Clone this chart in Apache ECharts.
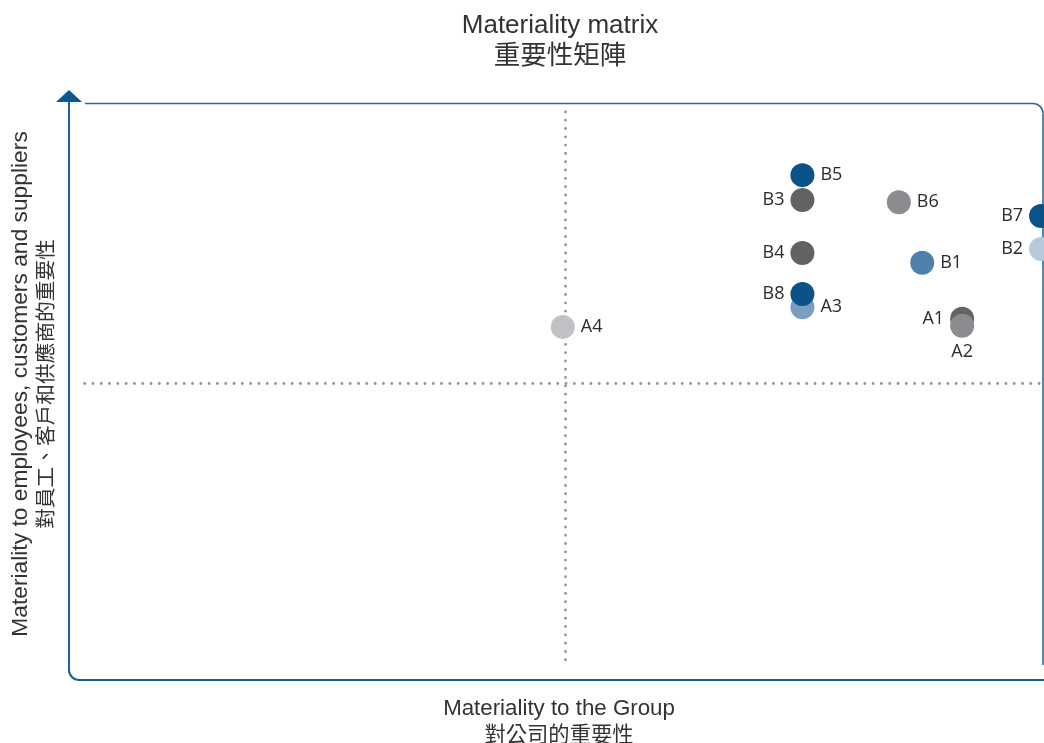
<!DOCTYPE html>
<html>
<head>
<meta charset="utf-8">
<title>Materiality matrix</title>
<script src="https://cdn.jsdelivr.net/npm/echarts@6/dist/echarts.min.js"></script>
<style>
  html, body { margin: 0; padding: 0; background: #fff; }
  #main { width: 1044px; height: 743px; }
</style>
</head>
<body>
<div id="main"></div>
<script type="text/javascript">
// topics (drawing order: later ones sit on top)
var names  = ['A4', 'B5', 'B3', 'B6', 'B7', 'B2', 'B4', 'B1', 'A3', 'B8', 'A1', 'A2'];
// materiality to the Group
var groupScore = [5.07, 7.53, 7.53, 8.52, 9.98, 9.98, 7.53, 8.76, 7.53, 7.53, 9.17, 9.17];
// materiality to employees, customers and suppliers
var stakeScore = [6.12, 8.75, 8.32, 8.28, 8.04, 7.47, 7.40, 7.23, 6.46, 6.69, 6.26, 6.14];
// middle split lines
var splitX = 5.1;
var splitY = 5.15;

// colour and label side for each topic
var colors = {
  A1: '#636466', A2: '#8b8c8f', A3: '#7b9dc2', A4: '#c0c1c4',
  B1: '#4e80ad', B2: '#b8c9dc', B3: '#616264', B4: '#616264',
  B5: '#0b5289', B6: '#8b8c8f', B7: '#0b5289', B8: '#0b5289'
};
var labelSide = {
  A1: 'left', A2: 'bottom', A3: 'right', A4: 'right',
  B1: 'right', B2: 'left', B3: 'left', B4: 'left',
  B5: 'right', B6: 'right', B7: 'left', B8: 'left'
};

var points = names.map(function (n, i) {
  return {
    name: n,
    value: [groupScore[i], stakeScore[i]],
    itemStyle: { color: colors[n], opacity: 1 },
    label: { position: labelSide[n], distance: labelSide[n] === 'bottom' ? 5 : 6 }
  };
});

var frameColor = '#1f5f96';
var txt = '#333';
var latin = 'Liberation Sans';
var cjk = 'Noto Sans CJK TC';

function twoLines(en, zh, enSize, zhSize, enH, zhH) {
  return {
    text: '{en|' + en + '}\n{zh|' + zh + '}',
    rich: {
      en: { fontFamily: latin, fontSize: enSize, lineHeight: enH, color: txt, fill: txt, align: 'center' },
      zh: { fontFamily: cjk, fontSize: zhSize, lineHeight: zhH, color: txt, fill: txt, align: 'center' }
    }
  };
}

var t1 = twoLines('Materiality matrix', '重要性矩陣', 26, 26.5, 28, 28);
var t2 = twoLines('Materiality to the Group', '對公司的重要性', 22.3, 21.3, 25, 25);
var t3 = twoLines('Materiality to employees, customers and suppliers', '對員工、客戶和供應商的重要性', 22.8, 20.7, 25, 25);

var myChart = echarts.init(document.getElementById('main'));
myChart.setOption({
  backgroundColor: '#fff',
  animation: false,
  grid: { left: 69, right: 1, top: 103, bottom: 63 },
  xAxis: {
    type: 'value', min: 0, max: 10,
    axisLine: { show: false }, axisTick: { show: false },
    axisLabel: { show: false }, splitLine: { show: false }
  },
  yAxis: {
    type: 'value', min: 0, max: 10,
    axisLine: { show: false }, axisTick: { show: false },
    axisLabel: { show: false }, splitLine: { show: false }
  },
  graphic: [{
    type: 'text', x: 560, y: 40,
    style: { text: t1.text, rich: t1.rich, align: 'center', verticalAlign: 'middle' }
  }, {
    type: 'text', x: 559, y: 721,
    style: { text: t2.text, rich: t2.rich, align: 'center', verticalAlign: 'middle' }
  }, {
    type: 'text', x: 33, y: 384, rotation: Math.PI / 2,
    style: { text: t3.text, rich: t3.rich, align: 'center', verticalAlign: 'middle' }
  },
  // frame: left + bottom with rounded corner
  { type: 'line', silent: true, shape: { x1: 69, y1: 100, x2: 69, y2: 670 },
    style: { stroke: frameColor, lineWidth: 2 } },
  { type: 'arc', silent: true, shape: { cx: 79, cy: 670, r: 10, startAngle: Math.PI / 2, endAngle: Math.PI, clockwise: true },
    style: { stroke: frameColor, lineWidth: 2, fill: null } },
  { type: 'line', silent: true, shape: { x1: 79, y1: 680, x2: 1044, y2: 680 },
    style: { stroke: frameColor, lineWidth: 2 } },
  // frame: top + right with rounded corner
  { type: 'line', silent: true, shape: { x1: 85, y1: 103.5, x2: 1033, y2: 103.5 },
    style: { stroke: '#2a6aa0', lineWidth: 1.6 } },
  { type: 'arc', silent: true, shape: { cx: 1033, cy: 113.5, r: 10, startAngle: -Math.PI / 2, endAngle: 0, clockwise: true },
    style: { stroke: '#2a6aa0', lineWidth: 1.6, fill: null } },
  { type: 'line', silent: true, shape: { x1: 1043, y1: 113.5, x2: 1043, y2: 665 },
    style: { stroke: '#2a6aa0', lineWidth: 1.6 } },
  { type: 'polygon', silent: true,
    shape: { points: [[69, 90], [82, 102], [56, 102]] },
    style: { fill: '#0d5890' } }
  ],
  series: [{
    // dotted quadrant lines, kept under the points
    type: 'scatter',
    data: [],
    z: 1,
    markLine: {
      silent: true, symbol: 'none',
      label: { show: false },
      lineStyle: { type: [0.1, 8.2], cap: 'round', color: '#959595', width: 2.8, opacity: 1 },
      data: [
        [{ coord: [splitX, 0.35] }, { coord: [splitX, 9.88] }],
        [{ coord: [0.16, splitY] }, { coord: [9.97, splitY] }]
      ]
    }
  }, {
    type: 'scatter',
    symbolSize: 24,
    data: points,
    itemStyle: { opacity: 1 },
    label: {
      show: true, formatter: '{b}',
      fontFamily: 'Open Sans, Noto Sans', fontSize: 18, color: '#2b2b2b'
    },
    z: 5
  }]
});
</script>
</body>
</html>
